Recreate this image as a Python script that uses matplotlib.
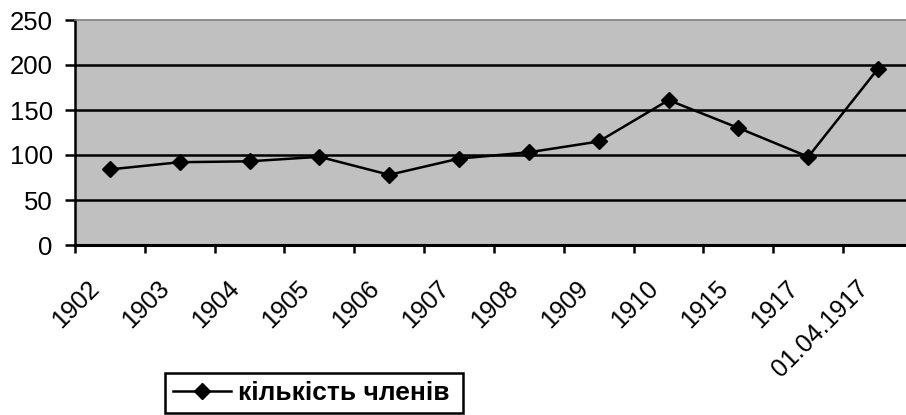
import matplotlib
matplotlib.use("Agg")
import matplotlib.pyplot as plt
import matplotlib.transforms as mtransforms
import numpy as np

categories = ["1902", "1903", "1904", "1905", "1906", "1907", "1908", "1909",
              "1910", "1915", "1917", "01.04.1917"]
members = [84, 92, 93, 98, 78, 96, 103, 115, 161, 130, 98, 196]
series_name = "кількість членів"
y_ticks = [0, 50, 100, 150, 200, 250]

plt.rcParams['font.family'] = ['Liberation Sans', 'DejaVu Sans']

W, H = 906, 415
fig = plt.figure(figsize=(W / 100, H / 100), dpi=100)
left, right, top, bottom = 75, 913, 20, 245
ax = fig.add_axes([left / W, 1 - bottom / H, (right - left) / W, (bottom - top) / H])
ax.set_facecolor('#C0C0C0')

x = np.arange(len(categories))
line, = ax.plot(x, members, color='black', lw=1.8, marker='D', markersize=8.5,
                markerfacecolor='black', markeredgecolor='black', label=series_name,
                zorder=3)

ax.set_xlim(-0.5, len(categories) - 0.5)
ax.set_ylim(0, 250)
ax.set_yticks(y_ticks)
ax.set_yticklabels([str(v) for v in y_ticks], fontsize=18.5)
for v in y_ticks[1:-1]:
    ax.axhline(v, color='black', lw=1.8, zorder=1)

# category boundaries as tick marks, category names as rotated labels
ax.set_xticks(np.arange(len(categories) + 1) - 0.5)
ax.set_xticklabels([])
label_trans = ax.get_xaxis_transform() + mtransforms.ScaledTranslation(
    -14 / 100, -40 / 100, fig.dpi_scale_trans)
for xi, cat in zip(x, categories):
    ax.text(xi, 0, cat, transform=label_trans, fontsize=18, rotation=45,
            ha='right', va='center', rotation_mode='anchor', clip_on=False)

ax.tick_params(axis='x', length=6, width=1.8, direction='out', color='black')
ax.tick_params(axis='y', length=7, width=1.8, direction='out', pad=9)

ax.spines['left'].set_linewidth(1.8)
ax.spines['bottom'].set_linewidth(2.2)
ax.spines['top'].set_color('#808080')
ax.spines['top'].set_linewidth(1.2)
ax.spines['right'].set_visible(False)

leg = fig.legend(handles=[line], loc='lower left',
                 bbox_to_anchor=(165 / W, 2 / H, (463 - 165) / W, (413 - 367) / H),
                 mode='expand', frameon=True, fancybox=False, framealpha=1,
                 edgecolor='black', prop={'weight': 'bold', 'size': 19},
                 handlelength=2.2, handletextpad=0.25, borderpad=0.3, borderaxespad=0)
leg.get_frame().set_linewidth(1.8)

fig.savefig("out.png", dpi=100)
